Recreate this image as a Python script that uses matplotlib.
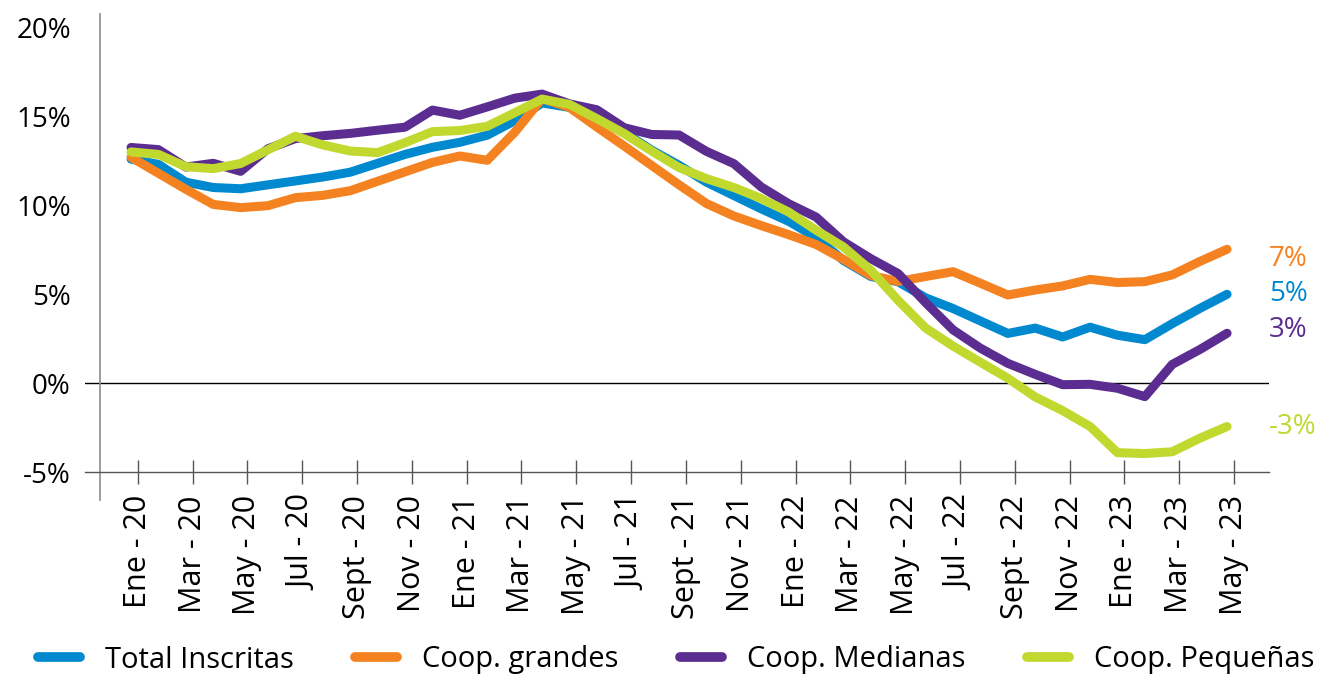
import numpy as np
import matplotlib
matplotlib.use("Agg")
import matplotlib.pyplot as plt
from matplotlib.lines import Line2D

plt.rcParams['font.family'] = ['Open Sans', 'DejaVu Sans']

# ---------------- data ----------------
tick_labels = ['Ene - 20', 'Mar - 20', 'May - 20', 'Jul - 20', 'Sept - 20', 'Nov - 20',
               'Ene - 21', 'Mar - 21', 'May - 21', 'Jul - 21', 'Sept - 21', 'Nov - 21',
               'Ene - 22', 'Mar - 22', 'May - 22', 'Jul - 22', 'Sept - 22', 'Nov - 22',
               'Ene - 23', 'Mar - 23', 'May - 23']

series_names = ['Total Inscritas', 'Coop. grandes', 'Coop. Medianas', 'Coop. Pequeñas']

total_inscritas = [12.6, 12.3, 11.3, 11.0, 10.93, 11.15, 11.37, 11.59, 11.86, 12.36,
                   12.86, 13.26, 13.54, 13.94, 14.75, 15.75, 15.5, 14.95, 14.1, 13.1,
                   12.25, 11.3, 10.55, 9.8, 9.1, 8.2, 6.9, 6.0, 5.7, 4.8,
                   4.2, 3.5, 2.8, 3.1, 2.6, 3.15, 2.7, 2.45, 3.35, 4.2, 5.0]

coop_grandes = [12.7, 11.8, 10.9, 10.05, 9.87, 9.98, 10.43, 10.56, 10.82, 11.35,
                11.88, 12.41, 12.77, 12.53, 14.1, 16.0, 15.5, 14.4, 13.33, 12.24,
                11.15, 10.1, 9.4, 8.86, 8.35, 7.8, 6.96, 6.05, 5.72, 6.0,
                6.27, 5.62, 4.96, 5.24, 5.47, 5.84, 5.66, 5.71, 6.09, 6.84, 7.53]

coop_medianas = [13.25, 13.13, 12.15, 12.36, 11.91, 13.18, 13.75, 13.91, 14.04, 14.22,
                 14.39, 15.35, 15.06, 15.53, 16.02, 16.25, 15.7, 15.37, 14.36, 13.98,
                 13.95, 13.03, 12.34, 11.03, 10.09, 9.34, 7.95, 7.0, 6.16, 4.53,
                 3.0, 1.97, 1.12, 0.5, -0.08, -0.06, -0.28, -0.75, 1.06, 1.89, 2.81]

coop_pequenas = [13.0, 12.86, 12.17, 12.06, 12.35, 13.12, 13.88, 13.39, 13.05, 12.96,
                 13.52, 14.14, 14.2, 14.44, 15.2, 15.97, 15.67, 14.87, 14.03, 13.05,
                 12.12, 11.5, 11.0, 10.38, 9.62, 8.6, 7.66, 6.35, 4.65, 3.1,
                 2.09, 1.18, 0.28, -0.77, -1.54, -2.43, -3.9, -3.95, -3.85, -3.09, -2.43]

end_labels = ['5%', '7%', '3%', '-3%']

y_ticks = [-5, 0, 5, 10, 15, 20]

# ---------------- style ----------------
colors = ['#0089CF', '#F58220', '#5C2D91', '#C1D82F']
end_label_dy = [0, -7, 2, 0]  # points

W, H = 1319, 675
fig = plt.figure(figsize=(W / 100, H / 100), dpi=100)
ax = fig.add_axes([85 / W, 175 / H, 1184 / W, 486 / H])

all_series = [total_inscritas, coop_grandes, coop_medianas, coop_pequenas]
x = np.arange(len(total_inscritas))

for vals, col in zip(all_series, colors):
    ax.plot(x, vals, color=col, lw=6.5, solid_capstyle='round',
            solid_joinstyle='round', zorder=3)

ax.set_xlim(-1.68, 41.53)
ax.set_ylim(-6.56, 20.75)

ax.axhline(0, color='black', lw=1.0, zorder=2)

for s in ['top', 'right']:
    ax.spines[s].set_visible(False)
ax.spines['left'].set_position(('axes', 15 / 1184))
ax.spines['left'].set_color('#8c8c8c')
ax.spines['left'].set_linewidth(1.2)
ax.spines['bottom'].set_position(('data', -5))
ax.spines['bottom'].set_color('#555555')
ax.spines['bottom'].set_linewidth(1.0)

ax.set_yticks(y_ticks)
ax.set_yticklabels([f'{v}%' for v in y_ticks])
ax.tick_params(axis='y', length=0, pad=21, labelsize=20, labelcolor='black')

tick_pos = np.arange(0, len(x), 2) + 0.25
ax.set_xticks(tick_pos)
ax.set_xticklabels(tick_labels, rotation=90)
ax.tick_params(axis='x', direction='inout', length=17, width=1.0, color='#555555',
               pad=8, labelsize=22, labelcolor='black')

for vals, col, lab, dy in zip(all_series, colors, end_labels, end_label_dy):
    ax.annotate(lab, xy=(x[-1], vals[-1]), xytext=(30, dy), textcoords='offset points',
                ha='left', va='center', color=col, fontsize=20, annotation_clip=False)

handles = [Line2D([], [], color=c, lw=7, solid_capstyle='round') for c in colors]
fig.legend(handles, series_names, loc='center', bbox_to_anchor=(0.5125, 15 / H),
           ncol=4, frameon=False, fontsize=21, handlelength=1.45, handletextpad=0.85,
           columnspacing=2.1)

fig.savefig('out.png', dpi=100)
